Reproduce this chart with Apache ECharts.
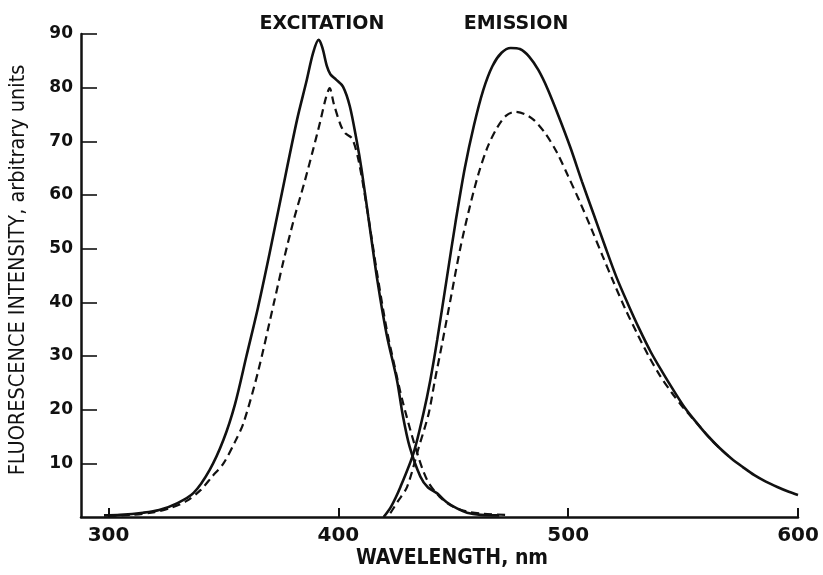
<!DOCTYPE html>
<html>
<head>
<meta charset="utf-8">
<script src="https://cdn.jsdelivr.net/npm/echarts@6/dist/echarts.min.js"></script>
<style>
html,body{margin:0;padding:0;background:#fff;}
#chart{width:823px;height:575px;}
</style>
</head>
<body>
<div id="chart"></div>
<script>
// Wavelength (nm) tick labels
const xTicks = [300, 400, 500, 600];
const yTicks = [10, 20, 30, 40, 50, 60, 70, 80, 90];

// Excitation spectrum, solid curve [nm, intensity]
const excitationSolid = [
  [298,0.3],[305,0.4],[315,0.8],[322,1.3],[330,2.6],[337,4.5],[344,8.8],[350,14.4],
  [355,21],[360,30],[365,39],[370,49],[375,59.5],[382,74],[386,81],[389,86.5],
  [391.4,88.9],[393,87.5],[395,84],[396.5,82.5],[399,81.5],[402,80.2],[405,76.5],
  [408,70],[410,65],[413,56],[417,44],[421,34],[425.5,25.5],[428,19],[431,13.1],
  [435.7,7.5],[439,5.5],[443,4.4],[447,2.8],[451.6,1.6],[456,0.8],[462,0.4],[470,0.3]
];
// Excitation spectrum, dashed curve
const excitationDashed = [
  [300,0.2],[310,0.4],[320,0.9],[327,1.7],[334,3],[340,5],[345,7.5],[350,10],
  [355,14],[358.7,17.5],[365,27],[372,40],[376,47.5],[380.6,55.4],[385,62],
  [388.6,67.8],[392,73.5],[394.5,78],[396.2,79.9],[398,77],[401,73],[403,71.5],
  [406,70.5],[409,66],[413,56],[417,45],[421,35],[424,29],[427.7,22],[433.5,13],
  [438.6,6.9],[444,3.8],[450,1.9],[456,1.0],[463,0.6],[473,0.4]
];
// Emission spectrum, solid curve
const emissionSolid = [
  [419.7,0],[423,2],[427,5.6],[432.7,11.9],[437,19.3],[440,25.5],[443,33],[447,44],
  [451,55],[455,65],[459,73],[463,79.5],[467,84],[471,86.5],[475,87.4],[479,87.2],
  [483,85.8],[487,83.3],[491,79.8],[496,74.5],[501,68.8],[506,62.5],[511,56.5],[516,50.5],
  [521,44.7],[526,39.7],[531,35],[536,30.7],[541,27],[546,23.5],[551,20.2],[556,17.5],
  [561,15],[566,12.8],[571,10.9],[576,9.3],[581,7.8],[586,6.6],[591,5.6],[596,4.7],[600,4.1]
];
// Emission spectrum, dashed curve
const emissionDashed = [
  [422.6,0.7],[426,3],[429.9,5.6],[435,13],[439.3,19.3],[442,25.5],[445,32],[449,41],
  [453,50],[457,57.5],[461,64],[465,69],[469,72.5],[473,74.8],[477,75.5],[481,75.1],
  [485,74],[490,71.5],[495,68],[500,63.5],[505,58.8],[510,53.8],[515,48.6],[520,43.5],
  [525,38.6],[530,34.2],[535,30],[540,26.3],[545,23.2],[550,20.4],[556,17.5],[561,15],
  [566,12.8],[571,10.9]
];

const chart = echarts.init(document.getElementById('chart'), null, {renderer:'canvas'});
const ink = '#111';
const lineSolid = {color: ink, width: 2.6, type: 'solid'};
const lineDash = {color: ink, width: 2.2, type: [8, 5]};
function mk(data, style){
  return {type:'line', data:data, showSymbol:false, smooth:0.3, lineStyle:style,
          itemStyle:{color:ink}, silent:true, animation:false};
}
chart.setOption({
  animation:false,
  backgroundColor:'#fff',
  grid:{left:81, right:25, top:34, bottom:58, containLabel:false},
  xAxis:{
    type:'value', min:288, max:600,
    axisLine:{show:true, onZero:false, lineStyle:{color:ink, width:2.5}},
    axisTick:{show:true, inside:true, length:9, customValues:xTicks, lineStyle:{color:ink, width:2}},
    axisLabel:{customValues:xTicks, color:ink, fontSize:20, fontWeight:'bold', fontFamily:'DejaVu Sans', margin:9},
    splitLine:{show:false}
  },
  yAxis:{
    type:'value', min:0, max:90, interval:10,
    axisLine:{show:true, lineStyle:{color:ink, width:2.5}},
    axisTick:{show:true, inside:true, length:16, customValues:yTicks, lineStyle:{color:ink, width:1.6}},
    axisLabel:{customValues:yTicks, color:ink, fontSize:17, fontWeight:'bold', fontFamily:'DejaVu Sans', margin:8},
    splitLine:{show:false}
  },
  graphic:[
    {type:'text', style:{text:'EXCITATION', x:322, y:24, align:'center', verticalAlign:'middle',
      font:'bold 19px "DejaVu Sans"', fill:ink}},
    {type:'text', style:{text:'EMISSION', x:516, y:24, align:'center', verticalAlign:'middle',
      font:'bold 19px "DejaVu Sans"', fill:ink}},
    {type:'text', style:{text:'WAVELENGTH, nm', x:452, y:559, align:'center', verticalAlign:'middle',
      font:'bold 21px "DejaVu Sans Condensed"', fill:ink}},
    {type:'text', x:18, y:270, rotation:Math.PI/2, style:{text:'FLUORESCENCE INTENSITY, arbitrary units',
      x:0, y:0, align:'center', verticalAlign:'middle', font:'21.5px "DejaVu Sans Condensed"', fill:ink}}
  ],
  series:[
    mk(excitationSolid, lineSolid),
    mk(excitationDashed, lineDash),
    mk(emissionSolid, lineSolid),
    mk(emissionDashed, lineDash)
  ]
});
</script>
</body>
</html>
